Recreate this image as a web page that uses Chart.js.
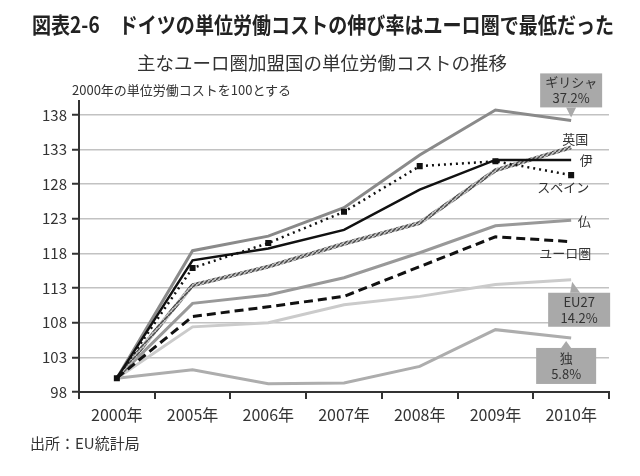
<!DOCTYPE html>
<html>
<head>
<meta charset="utf-8">
<script src="https://cdn.jsdelivr.net/npm/chart.js@4.4.0/dist/chart.umd.min.js"></script>
<style>
body { margin: 0; background: #fff; font-family: "Noto Sans CJK JP", "Noto Sans", sans-serif; }
#wrap { position: relative; width: 640px; height: 476px; overflow: hidden; }
#myChart { position: absolute; left: 0; top: 0; }
.txt { position: absolute; white-space: nowrap; line-height: 1; color: #333; }
#title { left: 32px; top: 12px; font-size: 22px; font-weight: bold; color: #222; transform-origin: left top; transform: scaleX(0.866); }
#subtitle { left: 137px; top: 53px; font-size: 18.5px; }
#note { left: 72px; top: 83px; font-size: 13px; }
#source { left: 30px; top: 435px; font-size: 15px; }
</style>
</head>
<body>
<div id="wrap">
  <canvas id="myChart" width="640" height="476"></canvas>
  <div class="txt" id="title">図表2-6　ドイツの単位労働コストの伸び率はユーロ圏で最低だった</div>
  <div class="txt" id="subtitle">主なユーロ圏加盟国の単位労働コストの推移</div>
  <div class="txt" id="note">2000年の単位労働コストを100とする</div>
  <div class="txt" id="source">出所：EU統計局</div>
</div>
<script>
const years = ['2000年', '2005年', '2006年', '2007年', '2008年', '2009年', '2010年'];
const yTicks = [98, 103, 108, 113, 118, 123, 128, 133, 138];

const greece  = [100, 118.4, 120.5, 124.6, 132.2, 138.7, 137.2];
const uk      = [100, 113.4, 116.1, 119.4, 122.4, 130.0, 133.3];
const italy   = [100, 117.0, 118.7, 121.4, 127.2, 131.5, 131.5];
const spain   = [100, 115.9, 119.5, 124.0, 130.6, 131.3, 129.3];
const france  = [100, 110.8, 112.0, 114.5, 118.1, 122.0, 122.8];
const euro    = [100, 108.9, 110.3, 111.8, 116.1, 120.4, 119.7];
const eu27    = [100, 107.4, 108.0, 110.6, 111.8, 113.5, 114.2];
const germany = [100, 101.2, 99.2, 99.3, 101.7, 107.0, 105.8];

// hatched look of the UK line
function hatch() {
    const c = document.createElement('canvas');
    c.width = 4;
    c.height = 4;
    const g = c.getContext('2d');
    g.fillStyle = '#bdbdbd';
    g.fillRect(0, 0, 4, 4);
    g.strokeStyle = '#4a4a4a';
    g.lineWidth = 1.5;
    g.beginPath();
    g.moveTo(0, 4);
    g.lineTo(4, 0);
    g.stroke();
    return g.createPattern(c, 'repeat');
}

function box(ctx, left, top, w, h, lines, tipX, tipY, baseX, up) {
    ctx.fillStyle = '#a9a9a9';
    ctx.fillRect(left, top, w, h);
    ctx.beginPath();
    const by = up ? top : top + h;
    ctx.moveTo(baseX - 5, by);
    ctx.lineTo(tipX, tipY);
    ctx.lineTo(baseX + 5, by);
    ctx.closePath();
    ctx.fill();
    ctx.fillStyle = '#333';
    ctx.font = '13px "Noto Sans CJK JP"';
    ctx.textAlign = 'center';
    ctx.textBaseline = 'middle';
    ctx.fillText(lines[0], left + w / 2, top + h / 2 - 8);
    ctx.fillText(lines[1], left + w / 2, top + h / 2 + 8);
}

const endLabels = {
    id: 'endLabels',
    afterDatasetsDraw(chart) {
        const ctx = chart.ctx;
        const x = chart.scales.x;
        const y = chart.scales.y;
        const px = x.getPixelForValue(years.length - 1);
        const last = arr => y.getPixelForValue(arr[arr.length - 1]);
        ctx.save();
        ctx.fillStyle = '#333';
        ctx.font = '13px "Noto Sans CJK JP"';
        ctx.textAlign = 'center';
        ctx.textBaseline = 'middle';
        ctx.fillText('英国', px + 4, last(uk) - 8);
        ctx.fillText('伊', px + 15, last(italy));
        ctx.fillText('スペイン', px - 8, last(spain) + 12);
        ctx.fillText('仏', px + 13, last(france) + 1);
        ctx.fillText('ユーロ圏', px - 6, last(euro) + 11);

        let gy = last(greece);
        box(ctx, px - 31, gy - 47, 62, 34, ['ギリシャ', '37.2%'], px, gy - 3, px, false);
        let ey = last(eu27);
        box(ctx, px - 23, ey + 13, 62, 34, ['EU27', '14.2%'], px + 1, ey + 2, px + 4, true);
        let dy = last(germany);
        box(ctx, px - 35, dy + 10, 60, 36, ['独', '5.8%'], px - 5, dy + 3, px - 5, true);
        ctx.restore();
    }
};

function line(data, color, width, dash) {
    return {
        data: data,
        borderColor: color,
        borderWidth: width,
        borderDash: dash || [],
        pointRadius: 0,
        tension: 0,
        fill: false
    };
}

const spainSet = line(spain, '#111', 2.5, [2, 4]);
spainSet.pointRadius = 2.5;
spainSet.pointStyle = 'rect';
spainSet.pointBackgroundColor = '#111';
spainSet.pointBorderColor = '#111';

const ctx = document.getElementById('myChart').getContext('2d');
const myChart = new Chart(ctx, {
    type: 'line',
    data: {
        labels: years,
        datasets: [
            line(italy, '#111', 2.5),
            spainSet,
            line(euro, '#111', 3, [9, 5]),
            line(uk, hatch(), 4),
            line(greece, '#8a8a8a', 3),
            line(france, '#999', 3),
            line(eu27, '#cbcbcb', 3),
            line(germany, '#adadad', 3)
        ]
    },
    options: {
        responsive: false,
        animation: false,
        layout: { padding: { top: 101, right: 31, bottom: 0, left: 0 } },
        plugins: { legend: { display: false }, tooltip: { enabled: false } },
        scales: {
            x: {
                offset: true,
                afterFit: function (scale) { scale.height = 84; },
                grid: { offset: true, drawOnChartArea: false, color: '#333', lineWidth: 2, tickLength: 7 },
                border: { color: '#333', width: 2 },
                ticks: { color: '#333', font: { size: 16, family: '"Noto Sans CJK JP"' }, padding: 6, maxRotation: 0 }
            },
            y: {
                min: 98,
                max: 140,
                afterFit: function (scale) { scale.width = 79; },
                afterBuildTicks: function (scale) { scale.ticks = yTicks.map(v => ({ value: v })); },
                grid: { color: '#c2c2c2', lineWidth: 1.5, tickColor: '#333', tickWidth: 2, tickLength: 7 },
                border: { color: '#333', width: 2 },
                ticks: { color: '#333', font: { size: 15, family: '"Noto Sans CJK JP"' }, padding: 5 }
            }
        }
    },
    plugins: [endLabels]
});
</script>
</body>
</html>
